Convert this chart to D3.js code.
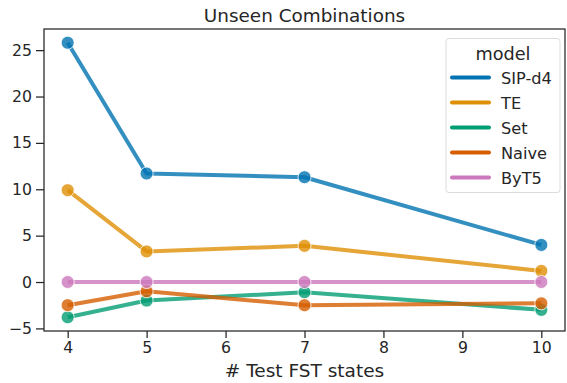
<!DOCTYPE html>
<html>
<head>
<meta charset="utf-8">
<script src="https://cdn.jsdelivr.net/npm/d3@7"></script>
<style>
  body { margin: 0; background: #fff; }
  text { font-family: "DejaVu Sans", sans-serif; fill: #262626; }
</style>
</head>
<body>
<div id="chart"></div>
<script>
// data
const states = [4, 5, 7, 10];
const models = ['SIP-d4', 'TE', 'Set', 'Naive', 'ByT5'];
const sipD4 = [25.8, 11.7, 11.3, 4.0];
const te = [9.9, 3.3, 3.9, 1.2];
const setModel = [-3.8, -2.0, -1.1, -3.0];
const naive = [-2.5, -1.0, -2.5, -2.3];
const byt5 = [0, 0, 0, 0];
const xTicks = [4, 5, 6, 7, 8, 9, 10];
const yTicks = [-5, 0, 5, 10, 15, 20, 25];
const colors = ['#0173b2', '#de8f05', '#029e73', '#d55e00', '#cc78bc'];

const seriesValues = [sipD4, te, setModel, naive, byt5];
const series = models.map((m, i) => ({
  name: m,
  color: colors[i],
  points: states.map((s, j) => ({ x: s, y: seriesValues[i][j] }))
}));

const W = 567, H = 383;
const margin = { top: 29, right: 2, bottom: 52, left: 44 };
const width = W - margin.left - margin.right;
const height = H - margin.top - margin.bottom;

const svg = d3.select('#chart')
  .append('svg')
    .attr('width', W)
    .attr('height', H);

const g = svg.append('g')
  .attr('transform', 'translate(' + margin.left + ',' + margin.top + ')');

// seaborn-like 5% padding
const x = d3.scaleLinear().domain([3.7, 10.3]).range([0, width]);
const y = d3.scaleLinear().domain([-5.28, 27.28]).range([height, 0]);

// axes
const xAxis = g.append('g')
  .attr('transform', 'translate(0,' + height + ')')
  .call(d3.axisBottom(x).tickValues(xTicks).tickSize(7).tickPadding(4).tickFormat(d3.format('d')));
const yAxis = g.append('g')
  .call(d3.axisLeft(y).tickValues(yTicks).tickSize(8).tickPadding(4).tickFormat(d => d < 0 ? '\u2212' + Math.abs(d) : d));
[xAxis, yAxis].forEach(a => {
  a.select('.domain').remove();
  a.selectAll('line').attr('stroke', '#262626').attr('stroke-width', 1.25);
  a.selectAll('text').style('font-size', '15.7px').attr('fill', '#262626');
});

// frame
g.append('rect')
  .attr('width', width)
  .attr('height', height)
  .attr('fill', 'none')
  .attr('stroke', '#262626')
  .attr('stroke-width', 1.25);

// lines
const line = d3.line().x(d => x(d.x)).y(d => y(d.y));
const sg = g.append('g').selectAll('g')
  .data(series)
  .enter()
  .append('g');
sg.append('path')
  .attr('d', d => line(d.points))
  .attr('fill', 'none')
  .attr('stroke', d => d.color)
  .attr('stroke-width', 4)
  .attr('stroke-opacity', 0.8)
  .attr('stroke-linejoin', 'round');
sg.selectAll('circle')
  .data(d => d.points.map(p => ({ ...p, color: d.color })))
  .enter()
  .append('circle')
    .attr('cx', d => x(d.x))
    .attr('cy', d => y(d.y))
    .attr('r', 6.5)
    .attr('fill', d => d.color)
    .attr('fill-opacity', 0.8)
    .attr('stroke', '#fff')
    .attr('stroke-opacity', 0.8)
    .attr('stroke-width', 1);

// title and labels
svg.append('text')
  .attr('x', margin.left + width / 2)
  .attr('y', 21.5)
  .attr('text-anchor', 'middle')
  .style('font-size', '18.4px')
  .text('Unseen Combinations');
svg.append('text')
  .attr('x', margin.left + width / 2)
  .attr('y', 377)
  .attr('text-anchor', 'middle')
  .style('font-size', '18.5px')
  .text('# Test FST states');

// legend
const lg = svg.append('g').attr('transform', 'translate(446,38.5)');
lg.append('rect')
  .attr('width', 114)
  .attr('height', 154)
  .attr('rx', 3)
  .attr('fill', '#fff')
  .attr('fill-opacity', 0.8)
  .attr('stroke', '#dcdcdc')
  .attr('stroke-width', 1);
lg.append('text')
  .attr('x', 57)
  .attr('y', 21)
  .attr('text-anchor', 'middle')
  .style('font-size', '17.7px')
  .text('model');
const items = lg.selectAll('.item')
  .data(series)
  .enter()
  .append('g')
    .attr('transform', (d, i) => 'translate(0,' + (39 + i * 25) + ')');
items.append('line')
  .attr('x1', 6).attr('x2', 43)
  .attr('stroke', d => d.color)
  .attr('stroke-width', 4)
  .attr('stroke-linecap', 'round');
items.append('text')
  .attr('x', 55)
  .attr('y', 6)
  .style('font-size', '16.2px')
  .text(d => d.name);
</script>
</body>
</html>
